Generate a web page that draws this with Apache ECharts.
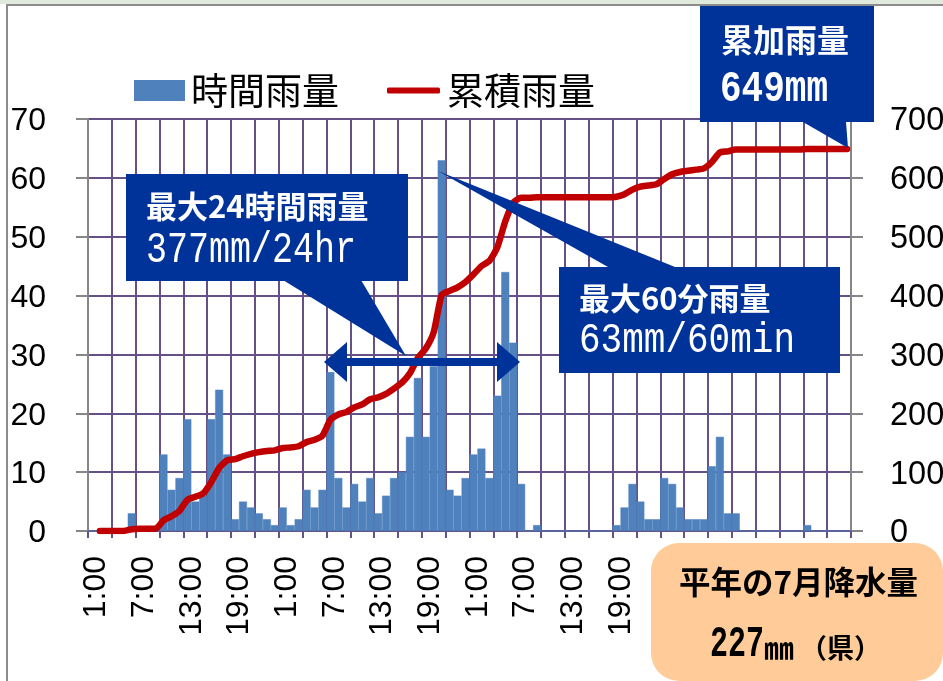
<!DOCTYPE html>
<html>
<head>
<meta charset="utf-8">
<script src="https://cdn.jsdelivr.net/npm/echarts@6/dist/echarts.min.js"></script>
<style>
html,body{margin:0;padding:0;background:#fff;}
#chart{width:943px;height:681px;}
</style>
</head>
<body>
<div id="chart"></div>
<script>
const dayLabels = ['1:00','2:00','3:00','4:00','5:00','6:00','7:00','8:00','9:00','10:00','11:00','12:00',
  '13:00','14:00','15:00','16:00','17:00','18:00','19:00','20:00','21:00','22:00','23:00','0:00'];
const categories = [...dayLabels, ...dayLabels, ...dayLabels, ...dayLabels];

const hourlyRain = [
  0,0,0,0,0,3,0,0,0,13,7,9,19,5,6,19,24,13,2,5,4,3,2,1,
  4,1,2,7,4,7,27,9,4,8,5,9,3,6,9,10,16,26,16,28,63,7,6,9,
  13,14,9,23,44,32,8,0,1,0,0,0,0,0,0,0,0,0,1,4,8,5,2,2,
  9,8,4,2,2,2,11,16,3,3,0,0,0,0,0,0,0,0,1,0,0,0,0,0
];
const totalRain = [
  null,0,0,0,0,3,4,4,4,18,25,34,53,58,64,83,107,120,122,127,131,134,136,137,
  141,142,144,151,155,162,189,198,202,210,215,224,227,233,242,252,268,294,310,338,401,408,414,423,
  436,450,459,482,526,558,566,566,567,567,567,567,567,567,567,567,567,567,568,572,580,585,587,589,
  598,606,610,612,614,616,627,643,645,648,648,648,648,648,648,648,648,648,649,649,649,649,649,649
];

const BLUE = '#003399';
const GRID = '#665088';
const GRAY = '#868686';
const LABEL_FONT = '"Liberation Sans"';
const JP_FONT = '"Noto Sans CJK JP"';
const NARROW_FONT = '"Liberation Mono"';

function box(x, y, w, h, fill, r) {
  return {type:'rect', shape:{x, y, width:w, height:h, r:r||0}, style:{fill}, z:100};
}
function tail(points) {
  return {type:'polygon', shape:{points}, style:{fill:BLUE}, z:100};
}
function label(x, y, text, size, opt) {
  opt = opt || {};
  return {
    type:'text', x, y, z:101, scaleY:opt.scaleY||1,
    style:{text, fill:opt.fill||'#fff', font:(opt.weight||'bold')+' '+size+'px '+(opt.family||JP_FONT),
      textAlign:'left', textVerticalAlign:'middle'}
  };
}

let chart = echarts.init(document.getElementById('chart'), null, {renderer:'canvas'});
chart.setOption({
  animation:false,
  backgroundColor:'#fff',
  legend:[
    {left:134, top:72, padding:0, itemWidth:49, itemHeight:19, icon:'rect',
      textStyle:{fontFamily:JP_FONT, fontSize:37, color:'#000', padding:[0,0,0,2]},
      data:['時間雨量']},
    {left:387, top:72, padding:0, itemWidth:53, itemHeight:6, icon:'roundRect',
      textStyle:{fontFamily:JP_FONT, fontSize:37, color:'#000', padding:[0,0,0,2]},
      data:['累積雨量']}
  ],
  grid:{left:88, right:92, top:119, height:412, outerBoundsMode:'none'},
  xAxis:{
    type:'category', data:categories,
    axisLine:{lineStyle:{color:GRID, width:2}},
    axisTick:{show:true, interval:2, length:7, lineStyle:{color:GRID, width:2}},
    splitLine:{show:true, interval:2, lineStyle:{color:GRID, width:2}},
    // small lineHeight with top align nudges the turned labels a few px to the right
    axisLabel:{interval:5, rotate:90, margin:25, verticalAlign:'top', lineHeight:9,
      fontFamily:LABEL_FONT, fontSize:32, color:'#000', hideOverlap:false}
  },
  yAxis:[
    {type:'value', min:0, max:70, interval:10,
      axisLine:{show:true, lineStyle:{color:GRAY, width:2}},
      axisTick:{show:true, length:12, lineStyle:{color:GRAY, width:2}},
      splitLine:{lineStyle:{color:GRID, width:2}},
      axisLabel:{margin:42, verticalAlign:'top', lineHeight:5, fontFamily:LABEL_FONT, fontSize:32, color:'#000'}},
    {type:'value', min:0, max:700, interval:100,
      axisLine:{show:true, lineStyle:{color:GRAY, width:2}},
      axisTick:{show:true, length:12, lineStyle:{color:GRAY, width:2}},
      splitLine:{show:false},
      axisLabel:{margin:39, verticalAlign:'top', lineHeight:5, fontFamily:LABEL_FONT, fontSize:32.5, color:'#000'}}
  ],
  series:[
    {name:'時間雨量', type:'bar', data:hourlyRain, barWidth:'100%',
      itemStyle:{color:'#4F81BD', borderColor:'#4F81BD', borderWidth:0.5}},
    {name:'累積雨量', type:'line', yAxisIndex:1, data:totalRain, symbol:'none', smooth:0.2,
      lineStyle:{color:'#C00000', width:6.5, cap:'round', join:'round'}, itemStyle:{color:'#C00000'}, z:5}
  ],
  graphic:{zlevel:1, z:100, elements:[
    // frame and the map behind the chart
    box(0, 0, 943, 4, '#dfe9dc'),
    box(6, 4, 937, 2, '#8c8c8c'),
    box(6, 4, 2, 677, '#8c8c8c'),
    // labels run off the chart area
    box(8, 633, 642, 48, '#fff'),
    // 24 hour span arrow
    box(345, 358, 153, 8, BLUE),
    tail([[324,362],[347,342],[347,382]]),
    tail([[520,362],[497,342],[497,382]]),
    // 最大24時間雨量
    tail([[283,280],[406,356],[361,280]]),
    box(126, 174, 282, 107, BLUE),
    label(146, 206, '最大24時間雨量', 31),
    label(146, 250, '377mm/24hr', 35, {family:NARROW_FONT, scaleY:1.25, weight:'normal'}),
    // 最大60分雨量
    tail([[438,171],[675,267],[608,267]]),
    box(559, 267, 281, 106, BLUE),
    label(579, 298, '最大60分雨量', 31),
    label(579, 341, '63mm/60min', 36, {family:NARROW_FONT, scaleY:1.2, weight:'normal'}),
    // 累加雨量
    tail([[803,122],[848,148],[846,122]]),
    box(700, 6, 174, 116, BLUE),
    label(721, 40, '累加雨量', 32),
    label(720, 90, '649mm', 36, {family:NARROW_FONT, scaleY:1.25}),
    // 平年
    box(651, 543, 292, 138, '#FFCC99', 28),
    label(679, 582, '平年の7月降水量', 31.5, {fill:'#000'}),
    label(710, 645, '227', 30, {fill:'#000', family:NARROW_FONT, scaleY:1.5}),
    label(764, 648, '㎜', 30, {fill:'#000'}),
    label(800, 648, '（県）', 27, {fill:'#000'})
  ]}
});
</script>
</body>
</html>
